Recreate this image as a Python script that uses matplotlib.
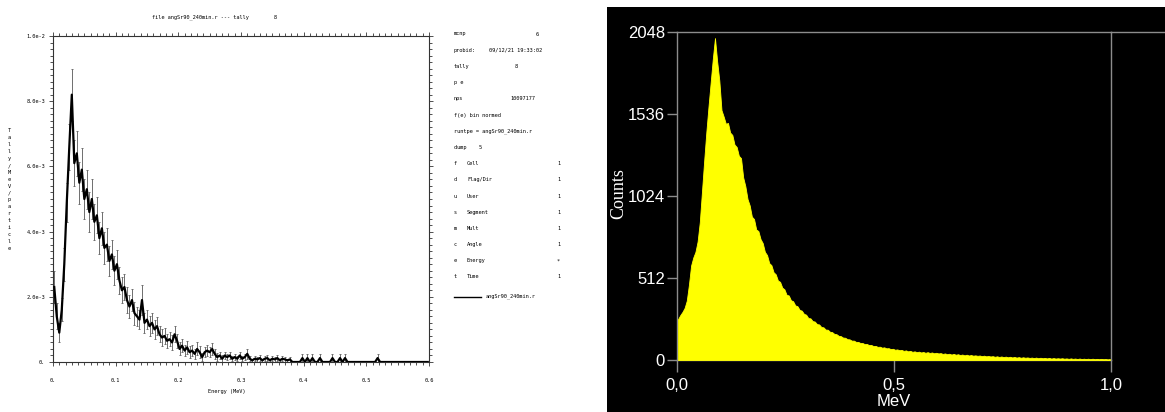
import numpy as np
import matplotlib
matplotlib.use("Agg")
import matplotlib.pyplot as plt
from matplotlib.patches import Rectangle
from matplotlib.lines import Line2D

W, H = 1165, 412

# ---------------- data: MCNP tally (left) ----------------
tally_bin_width = 0.004  # MeV
tally_e3 = [  # tally / MeV / particle, in units of 1e-3
    2.3, 1.4, 0.9, 1.6, 3.0, 4.9, 6.6, 8.2, 6.1, 6.4,
    5.5, 5.9, 5.0, 5.3, 4.6, 5.0, 4.3, 4.5, 3.8, 4.1,
    3.5, 3.6, 3.1, 3.3, 2.8, 3.0, 2.5, 2.2, 2.3, 1.9,
    1.7, 1.9, 1.5, 1.4, 1.3, 1.9, 1.2, 1.3, 1.1, 1.2,
    1.0, 1.1, 0.85, 0.75, 0.8, 0.65, 0.7, 0.6, 0.85, 0.65,
    0.4, 0.5, 0.35, 0.45, 0.3, 0.35, 0.25, 0.4, 0.3, 0.15,
    0.3, 0.35, 0.3, 0.4, 0.25, 0.15, 0.2, 0.1, 0.2, 0.15,
    0.2, 0.1, 0.15, 0.1, 0.2, 0.1, 0.15, 0.25, 0.1, 0.05,
    0.1, 0.08, 0.12, 0.05, 0.1, 0.12, 0.05, 0.1, 0.08, 0.12,
    0.05, 0.1, 0.08, 0.05, 0.08, 0.0, 0.0, 0.0, 0.0, 0.12,
    0.0, 0.12, 0.0, 0.12, 0.0, 0.0, 0.12, 0.0, 0.0, 0.0,
    0.0, 0.12, 0.0, 0.0, 0.12, 0.0, 0.12, 0.0, 0.0, 0.0,
    0.0, 0.0, 0.0, 0.0, 0.0, 0.0, 0.0, 0.0, 0.0, 0.12,
    0.0, 0.0, 0.0, 0.0, 0.0, 0.0, 0.0, 0.0, 0.0, 0.0,
    0.0, 0.0, 0.0, 0.0, 0.0, 0.0, 0.0, 0.0, 0.0, 0.0,
]
tally_err_e3 = [
    0.5, 0.4, 0.3, 0.35, 0.5, 0.6, 0.7, 0.8, 0.7, 0.7,
    0.65, 0.65, 0.6, 0.6, 0.6, 0.6, 0.55, 0.55, 0.5, 0.5,
    0.5, 0.5, 0.45, 0.45, 0.45, 0.45, 0.4, 0.4, 0.4, 0.4,
    0.35, 0.35, 0.35, 0.3, 0.3, 0.45, 0.3, 0.3, 0.3, 0.3,
    0.28, 0.28, 0.25, 0.25, 0.25, 0.22, 0.22, 0.22, 0.25, 0.22,
    0.2, 0.2, 0.18, 0.2, 0.18, 0.18, 0.15, 0.2, 0.18, 0.12,
    0.15, 0.18, 0.15, 0.18, 0.15, 0.12, 0.12, 0.1, 0.12, 0.1,
    0.12, 0.08, 0.1, 0.08, 0.12, 0.08, 0.1, 0.15, 0.08, 0.05,
    0.08, 0.07, 0.08, 0.05, 0.08, 0.1, 0.05, 0.08, 0.07, 0.08,
    0.05, 0.08, 0.07, 0.05, 0.07, 0.0, 0.0, 0.0, 0.0, 0.12,
    0.0, 0.12, 0.0, 0.12, 0.0, 0.0, 0.12, 0.0, 0.0, 0.0,
    0.0, 0.12, 0.0, 0.0, 0.12, 0.0, 0.12, 0.0, 0.0, 0.0,
    0.0, 0.0, 0.0, 0.0, 0.0, 0.0, 0.0, 0.0, 0.0, 0.12,
    0.0, 0.0, 0.0, 0.0, 0.0, 0.0, 0.0, 0.0, 0.0, 0.0,
    0.0, 0.0, 0.0, 0.0, 0.0, 0.0, 0.0, 0.0, 0.0, 0.0,
]
tally_xticks = [0.0, 0.1, 0.2, 0.3, 0.4, 0.5, 0.6]
tally_xticklabels = ["0.", "0.1", "0.2", "0.3", "0.4", "0.5", "0.6"]
tally_yticks = [0.0, 2e-3, 4e-3, 6e-3, 8e-3, 1e-2]
tally_yticklabels = ["0.", "2.0e-3", "4.0e-3", "6.0e-3", "8.0e-3", "1.0e-2"]

info_lines = [
    ("mcnp", "", "6"),
    ("probid:", "", "09/12/21 19:33:02"),
    ("tally", "", "8"),
    ("p e", "", ""),
    ("nps", "", "10097177"),
    ("f(e) bin normed", "", ""),
    ("runtpe = angSr90_240min.r", "", ""),
    ("dump    5", "", ""),
    ("f", "Cell", "1"),
    ("d", "Flag/Dir", "1"),
    ("u", "User", "1"),
    ("s", "Segment", "1"),
    ("m", "Mult", "1"),
    ("c", "Angle", "1"),
    ("e", "Energy", "*"),
    ("t", "Time", "1"),
]
value_x = {"mcnp": 536, "probid:": 489, "tally": 515, "nps": 510}

# ---------------- data: measured spectrum (right) ----------------
spec_bin_width = 0.005  # MeV
spec_counts = [
    255, 280, 300, 325, 370, 470, 590, 640, 675, 740,
    860, 1050, 1240, 1420, 1580, 1730, 1880, 2010, 1865, 1745,
    1560, 1520, 1475, 1480, 1420, 1405, 1345, 1330, 1275, 1260,
    1140, 1085, 1005, 965, 895, 880, 815, 805, 755, 730,
    675, 655, 605, 592, 548, 535, 496, 488, 452, 441,
    407, 403, 373, 367, 341, 336, 313, 308, 288, 283,
    262, 260, 243, 240, 224, 222, 206, 204, 190, 189,
    176, 174, 163, 161, 151, 149, 140, 139, 130, 129,
    121, 121, 113, 113, 106, 106, 99, 100, 93, 94,
    87, 88, 82, 83, 77, 79, 73, 74, 68, 70,
    64, 66, 61, 63, 57, 60, 54, 57, 51, 54,
    49, 52, 47, 50, 45, 49, 44, 47, 42, 45,
    41, 43, 38, 41, 36, 39, 34, 38, 33, 36,
    31, 34, 29, 33, 28, 31, 27, 29, 26, 28,
    24, 27, 23, 25, 22, 24, 20, 23, 19, 22,
    18, 21, 17, 20, 16, 19, 15, 18, 14, 17,
    14, 16, 13, 15, 12, 15, 11, 14, 11, 13,
    10, 13, 9, 12, 9, 11, 9, 11, 8, 10,
    7, 10, 7, 9, 6, 9, 6, 8, 6, 8,
    5, 8, 5, 7, 5, 7, 5, 6, 4, 6,
]
spec_yticks = [0, 512, 1024, 1536, 2048]
spec_xticks = [0.0, 0.5, 1.0]
spec_xticklabels = ["0,0", "0,5", "1,0"]

# ---------------- figure ----------------
fig = plt.figure(figsize=(W / 100, H / 100), dpi=100)
fig.patch.set_facecolor("white")

def fx(px):
    return px / W

def fy(py):
    return 1 - py / H

mono = "DejaVu Sans Mono"
small = 3.8

# ---- left: MCNP tally ----
ax = fig.add_axes([fx(53), fy(362), (429 - 53) / W, (362 - 36) / H])
n = len(tally_e3)
edges = np.arange(n + 1) * tally_bin_width
centers = 0.5 * (edges[:-1] + edges[1:])
vals = np.array(tally_e3) * 1e-3
errs = np.array(tally_err_e3) * 1e-3
mask = errs > 0
ax.errorbar(centers[mask], vals[mask], yerr=errs[mask], fmt="none",
            ecolor="#6e6e6e", elinewidth=0.7, capsize=1.0, capthick=0.7, zorder=2)
ax.plot(centers, vals, color="black", lw=1.6, zorder=3)
ax.set_xlim(0, 0.6)
ax.set_ylim(0, 1e-2)
ax.set_xticks(tally_xticks)
ax.set_xticklabels(tally_xticklabels, family=mono, fontsize=small)
ax.set_yticks(tally_yticks)
ax.set_yticklabels(tally_yticklabels, family=mono, fontsize=small)
ax.set_xticks(np.arange(0, 0.6001, 0.01), minor=True)
ax.set_yticks(np.arange(0, 0.01001, 2e-4), minor=True)
ax.tick_params(which="both", direction="out", top=True, right=True,
               color="#333333", width=0.6)
ax.tick_params(which="major", length=3.2)
ax.tick_params(which="minor", length=2.0)
ax.tick_params(axis="x", pad=8)
ax.tick_params(axis="y", pad=2.5)
for s in ax.spines.values():
    s.set_color("#333333")
    s.set_linewidth(0.8)

fig.text(fx(215), fy(17), "file angSr90_240min.r --- tally        8",
         family=mono, fontsize=small, ha="center", va="center")
fig.text(fx(227), fy(391), "Energy (MeV)", family=mono, fontsize=small,
         ha="center", va="center")
ylabel_chars = "Tally/MeV/particle"
for i, ch in enumerate(ylabel_chars):
    fig.text(fx(9), fy(131 + i * 6.9), ch, family=mono, fontsize=small,
             ha="center", va="center")

# info panel
for i, (a, b, c) in enumerate(info_lines):
    y = fy(34 + 16.2 * i)
    fig.text(fx(454), y, a, family=mono, fontsize=small, va="center")
    if b:
        fig.text(fx(467), y, b, family=mono, fontsize=small, va="center")
        fig.text(fx(557), y, c, family=mono, fontsize=small, va="center")
    elif c:
        fig.text(fx(value_x[a]), y, c, family=mono, fontsize=small, va="center")
fig.add_artist(Line2D([fx(454), fx(481)], [fy(297), fy(297)], color="black", lw=1.0))
fig.text(fx(486), fy(296), "angSr90_240min.r", family=mono, fontsize=small, va="center")

# ---- right: measured spectrum ----
fig.add_artist(Rectangle((fx(607), 0), (W - 607) / W, (H - 7) / H,
                         transform=fig.transFigure, facecolor="black",
                         edgecolor="none", zorder=-1))
ax2 = fig.add_axes([fx(677), fy(360), (1111 - 677) / W, (360 - 32) / H])
ax2.set_facecolor("black")
m = len(spec_counts)
scenters = (np.arange(m) + 0.5) * spec_bin_width
ax2.fill_between(scenters, 0, spec_counts, color="#ffff00", lw=0.6,
                 edgecolor="#ffff00", zorder=3)
ax2.set_xlim(0, 1.0)
ax2.set_ylim(0, 2048)
gray = "#8c8c8c"
for s in ax2.spines.values():
    s.set_color(gray)
    s.set_linewidth(1.0)
ax2.add_line(Line2D([1.0, (W - 677) / (1111 - 677)], [1.0, 1.0], transform=ax2.transAxes,
                    color=gray, lw=1.0, clip_on=False))
ax2.set_yticks(spec_yticks)
ax2.set_yticklabels([str(v) for v in spec_yticks], family="Liberation Sans",
                    fontsize=12, color="white")
ax2.set_xticks(spec_xticks)
ax2.set_xticklabels(spec_xticklabels, family="Liberation Sans", fontsize=12, color="white")
ax2.tick_params(axis="y", direction="out", length=7.2, width=1.0, color=gray, pad=1.5)
ax2.tick_params(axis="x", direction="out", length=8.6, width=1.0, color=gray, pad=4)
fig.text(fx(894), fy(401), "MeV", family="Liberation Sans", fontsize=12,
         color="white", ha="center", va="center")
fig.text(fx(619), fy(194), "Counts", family="Liberation Serif", fontsize=13,
         color="white", rotation=90, ha="center", va="center")

fig.savefig("out.png", dpi=100, facecolor="white")
